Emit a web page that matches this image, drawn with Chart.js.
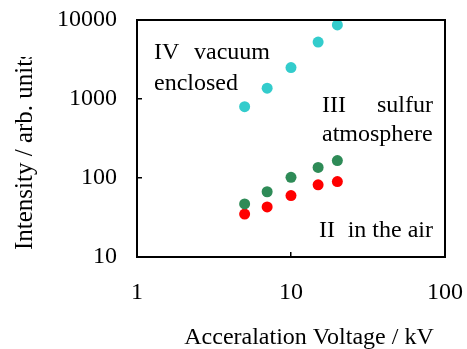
<!DOCTYPE html>
<html>
<head>
<meta charset="utf-8">
<script src="https://cdn.jsdelivr.net/npm/chart.js@4/dist/chart.umd.min.js"></script>
<style>
  body { margin: 0; background: #fff; }
</style>
</head>
<body>
<canvas id="myChart" width="467" height="349"></canvas>
<script>
// values
const voltage = [5, 7, 10, 15, 20];
const vacuumEnclosed = [800, 1370, 2500, 5260, 8650];
const sulfurAtmosphere = [47, 67, 102, 136, 166];
const inTheAir = [35, 43, 60, 82, 90];

const xTicks = [1, 10, 100];
const yTicks = [10, 100, 1000, 10000];

const xTitle = "Acceralation Voltage / kV";
const yTitle = "Intensity / arb. units";

const FONT = "Liberation Serif";

const toPoints = (ys) => voltage.map((x, i) => ({ x: x, y: ys[i] }));

// box round the plot, axis titles and the series labels
const extras = {
  id: "extras",
  afterDraw(chart) {
    const ctx = chart.ctx;
    const a = chart.chartArea;
    ctx.save();
    ctx.strokeStyle = "#000";
    ctx.lineWidth = 2;
    ctx.strokeRect(a.left, a.top, a.right - a.left, a.bottom - a.top);

    ctx.fillStyle = "#000";
    ctx.font = `24px "${FONT}"`;
    ctx.textBaseline = "alphabetic";

    // series labels
    ctx.textAlign = "left";
    ctx.fillText("IV", a.left + 17, a.top + 39);
    ctx.fillText("vacuum", a.left + 57, a.top + 39);
    ctx.fillText("enclosed", a.left + 17, a.top + 70);
    ctx.fillText("III", a.left + 185, a.top + 92);
    ctx.fillText("atmosphere", a.left + 185, a.top + 121);
    ctx.fillText("II", a.left + 182, a.top + 217);
    ctx.textAlign = "right";
    ctx.fillText("sulfur", a.left + 296, a.top + 92);
    ctx.fillText("in the air", a.left + 296, a.top + 217);

    // x title
    ctx.textAlign = "center";
    ctx.fillText(xTitle, 309, 344);

    // y title, cut off at the top like the original
    ctx.font = `25px "${FONT}"`;
    ctx.beginPath();
    ctx.rect(0, 57, 60, 300);
    ctx.clip();
    ctx.translate(32, 250);
    ctx.rotate(-Math.PI / 2);
    ctx.textAlign = "left";
    ctx.fillText(yTitle, 0, 0);
    ctx.restore();
  },
};

const tickFont = { family: FONT, size: 24 };

const data = {
  datasets: [
    {
      label: "IV vacuum enclosed",
      data: toPoints(vacuumEnclosed),
      backgroundColor: "#33CCCC",
    },
    {
      label: "III sulfur atmosphere",
      data: toPoints(sulfurAtmosphere),
      backgroundColor: "#2E8B57",
    },
    {
      label: "II in the air",
      data: toPoints(inTheAir),
      backgroundColor: "#FF0000",
    },
  ],
};

const config = {
  type: "scatter",
  data: data,
  options: {
    responsive: false,
    animation: false,
    elements: {
      point: { radius: 5.5, borderWidth: 0, hoverRadius: 5.5 },
    },
    layout: {
      padding: { top: 20, right: 22, left: 0, bottom: 0 },
    },
    plugins: {
      legend: { display: false },
      tooltip: { enabled: false },
    },
    scales: {
      x: {
        type: "logarithmic",
        min: 1,
        max: 100,
        afterBuildTicks: (s) => {
          s.ticks = xTicks.map((v) => ({ value: v }));
        },
        afterFit: (s) => {
          s.height = 92;
          s.paddingLeft = 0;
          s.paddingRight = 0;
        },
        ticks: {
          callback: (v) => String(v),
          font: tickFont,
          color: "#000",
          padding: 26,
          maxRotation: 0,
          autoSkip: false,
        },
        grid: { drawOnChartArea: false, tickLength: -5, color: "#000", lineWidth: 1.5 },
        border: { display: false },
      },
      y: {
        type: "logarithmic",
        min: 10,
        max: 10000,
        afterBuildTicks: (s) => {
          s.ticks = yTicks.map((v) => ({ value: v }));
        },
        afterFit: (s) => {
          s.width = 137;
          s.paddingTop = 0;
          s.paddingBottom = 0;
        },
        ticks: {
          callback: (v) => String(v),
          font: tickFont,
          color: "#000",
          padding: 25,
          autoSkip: false,
        },
        grid: { drawOnChartArea: false, tickLength: -5, color: "#000", lineWidth: 1.5 },
        border: { display: false },
      },
    },
  },
  plugins: [extras],
};

const myChart = new Chart("myChart", config);
</script>
</body>
</html>
